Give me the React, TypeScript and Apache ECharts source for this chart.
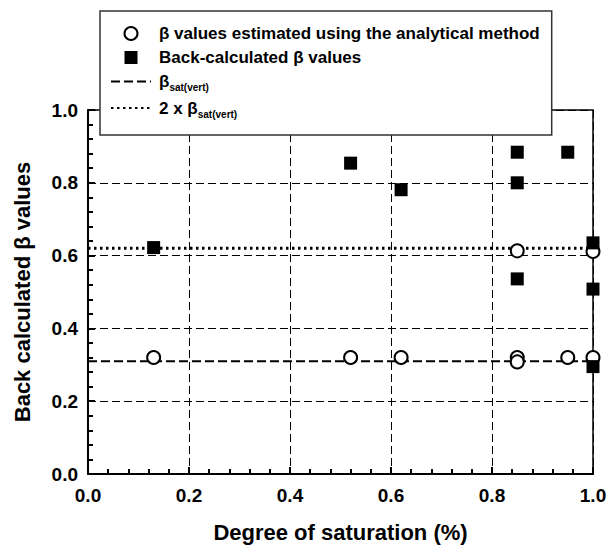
import React, { useEffect, useRef } from "react";
import * as echarts from "echarts";

const circleX = [0.13, 0.52, 0.62, 0.85, 0.85, 0.85, 0.95, 1.0, 1.0];
const circleY = [0.32, 0.32, 0.32, 0.32, 0.308, 0.613, 0.32, 0.32, 0.611];
const squareX = [0.13, 0.52, 0.62, 0.85, 0.85, 0.85, 0.95, 1.0, 1.0, 1.0];
const squareY = [0.622, 0.854, 0.781, 0.884, 0.8, 0.536, 0.884, 0.635, 0.508, 0.295];
const refX = [0, 1];
const betaSatY = [0.31, 0.31];
const betaSat2Y = [0.62, 0.62];

const seriesNames = [
  "β values estimated using the analytical method",
  "Back-calculated β values",
  "βsat(vert)",
  "2 x βsat(vert)",
];

const FONT = "Liberation Sans, Arial, Helvetica, sans-serif";
const SQUARE = "path://M0,0H10V10H0Z";

function zip(xs: number[], ys: number[]) {
  return xs.map((x, i) => [x, ys[i]]);
}

export default function App() {
  const ref = useRef<HTMLDivElement>(null);
  useEffect(() => {
    document.body.style.margin = "0";
    document.body.style.overflow = "hidden";
    if (!ref.current) return;
    const chart = echarts.init(ref.current, undefined, { renderer: "svg" });
    const axisCommon = {
      min: 0,
      max: 1,
      interval: 0.2,
      axisLine: { show: true, lineStyle: { color: "#000", width: 2 } },
      axisTick: { show: true, inside: true, length: 7, lineStyle: { color: "#000", width: 2 } },
      minorTick: { show: true, splitNumber: 5, length: 5, lineStyle: { color: "#000", width: 2 } },
      splitLine: { show: true, lineStyle: { color: "#000", width: 1, type: [8, 4] } },
      axisLabel: {
        color: "#000",
        fontSize: 19,
        fontWeight: "bold",
        fontFamily: FONT,
        formatter: (v: number) => v.toFixed(1),
      },
      nameLocation: "middle",
      nameTextStyle: { color: "#000", fontSize: 22, fontWeight: "bold", fontFamily: FONT },
    };
    chart.setOption({
      animation: false,
      backgroundColor: "#fff",
      grid: {
        left: 88,
        right: 23,
        top: 110,
        bottom: 72,
        containLabel: false,
        outerBoundsMode: "none",
        show: true,
        borderColor: "#000",
        borderWidth: 1.5,
        backgroundColor: "transparent",
      },
      xAxis: {
        type: "value",
        ...axisCommon,
        axisLabel: { ...axisCommon.axisLabel, margin: 12 },
        name: "Degree of saturation (%)",
        nameGap: 47,
      },
      yAxis: {
        type: "value",
        ...axisCommon,
        axisLabel: { ...axisCommon.axisLabel, margin: 10 },
        name: "Back calculated β values",
        nameGap: 55,
      },
      legend: {
        orient: "vertical",
        left: 100,
        top: 11,
        padding: [14, 12, 16, 10],
        itemGap: 7,
        itemWidth: 40,
        itemHeight: 13,
        symbolKeepAspect: true,
        backgroundColor: "#fff",
        borderColor: "#333",
        borderWidth: 1.5,
        data: seriesNames,
        textStyle: {
          color: "#000",
          fontSize: 17,
          fontWeight: "bold",
          fontFamily: FONT,
          padding: [0, 0, 0, 3],
          rich: {
            m: { fontSize: 17, fontWeight: "bold", fontFamily: FONT, color: "#000", lineHeight: 20 },
            s: {
              fontSize: 10,
              fontWeight: "bold",
              fontFamily: FONT,
              color: "#000",
              lineHeight: 22,
              verticalAlign: "bottom",
            },
          },
        },
        formatter: (name: string) =>
          name.includes("sat(vert)")
            ? `{m|${name.replace("sat(vert)", "")}}{s|sat(vert)}`
            : `{m|${name}}`,
      },
      series: [
        {
          name: seriesNames[0],
          type: "scatter",
          symbol: "circle",
          symbolSize: 13,
          clip: false,
          itemStyle: { color: "#fff", borderColor: "#000", borderWidth: 2, opacity: 1 },
          data: zip(circleX, circleY),
          z: 3,
        },
        {
          name: seriesNames[1],
          type: "scatter",
          symbol: SQUARE,
          symbolSize: 13,
          symbolKeepAspect: true,
          clip: false,
          itemStyle: { color: "#000", opacity: 1 },
          data: zip(squareX, squareY),
          z: 4,
        },
        {
          name: seriesNames[2],
          type: "line",
          symbol: "none",
          itemStyle: { color: "transparent" },
          lineStyle: { color: "#000", width: 2, type: [9, 4] },
          data: zip(refX, betaSatY),
          z: 2,
        },
        {
          name: seriesNames[3],
          type: "line",
          symbol: "none",
          itemStyle: { color: "transparent" },
          lineStyle: { color: "#000", width: 3, type: [2.5, 3.5] },
          data: zip(refX, betaSat2Y),
          z: 2,
        },
      ],
    });
    return () => chart.dispose();
  }, []);
  return <div ref={ref} style={{ width: 616, height: 546 }} />;
}
